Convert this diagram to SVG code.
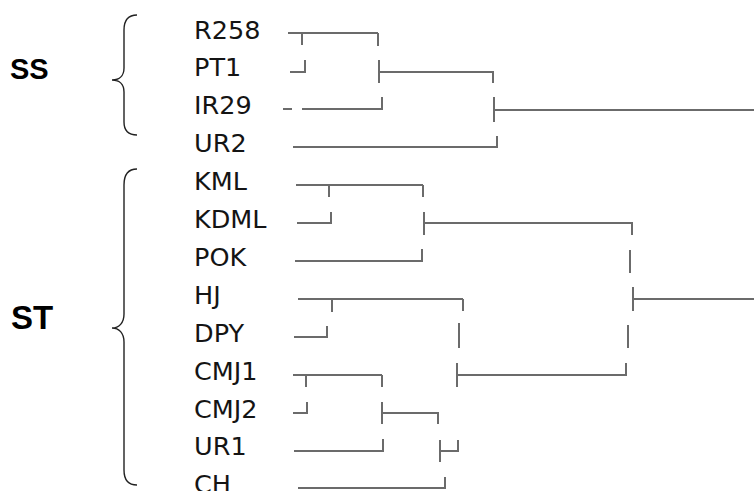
<svg xmlns="http://www.w3.org/2000/svg" width="754" height="491" viewBox="0 0 754 491">
  <style>
    .leaf { font-family: "DejaVu Sans", Verdana, sans-serif; font-size: 25.5px; fill: #141414; }
    .grp { font-family: "Liberation Sans", Arial, sans-serif; font-weight: bold; fill: #000; }
    .br { fill: none; stroke: #222; stroke-width: 1.4; }
    .ln { fill: none; stroke: #6b6b6b; stroke-width: 2; stroke-linecap: butt; }
  </style>
  <rect width="754" height="491" fill="#fff"/>

  <!-- group labels and braces -->
  <g id="group-ss">
    <text class="grp" x="10" y="79" font-size="29">SS</text>
    <path class="br" d="M137,15 C128,15 124,20 124,30 L124,68 C124,76 119,80 112,80 C119,80 124,84 124,92 L124,122 C124,131 128,135 137,135"/>
  </g>
  <g id="group-st">
    <text class="grp" x="11" y="329" font-size="33">ST</text>
    <path class="br" d="M137,169 C128,169 124,175 124,185 L124,314 C124,323 119,328 112,328 C119,328 124,333 124,342 L124,470 C124,480 128,485 137,485"/>
  </g>

  <!-- leaf labels -->
  <g id="leaf-R258"><text class="leaf" x="194" y="38.5">R258</text></g>
  <g id="leaf-PT1"><text class="leaf" x="194" y="76.4">PT1</text></g>
  <g id="leaf-IR29"><text class="leaf" x="194" y="114.3">IR29</text></g>
  <g id="leaf-UR2"><text class="leaf" x="194" y="152.2">UR2</text></g>
  <g id="leaf-KML"><text class="leaf" x="194" y="190.1">KML</text></g>
  <g id="leaf-KDML"><text class="leaf" x="194" y="228">KDML</text></g>
  <g id="leaf-POK"><text class="leaf" x="194" y="265.9">POK</text></g>
  <g id="leaf-HJ"><text class="leaf" x="194" y="303.8">HJ</text></g>
  <g id="leaf-DPY"><text class="leaf" x="194" y="341.7">DPY</text></g>
  <g id="leaf-CMJ1"><text class="leaf" x="194" y="379.6">CMJ1</text></g>
  <g id="leaf-CMJ2"><text class="leaf" x="194" y="417.5">CMJ2</text></g>
  <g id="leaf-UR1"><text class="leaf" x="194" y="455.4">UR1</text></g>
  <g id="leaf-CH"><text class="leaf" x="194" y="493">CH</text></g>

  <!-- dendrogram branches -->
  <g id="connectors" class="ln">
    <!-- SS cluster -->
    <path d="M288,33 H378 M302,33 V45 M378,33 V46"/>
    <path d="M290,72 H305 V60"/>
    <path d="M379,60 V83 M379,72 H493 V83"/>
    <path d="M283,109 H292 M302,109 H382 V97"/>
    <path d="M494,97 V122 M494,110 H754"/>
    <path d="M293,147 H497 V136"/>

    <!-- ST cluster -->
    <path d="M296,185 H423 M329,185 V197 M423,185 V197"/>
    <path d="M297,223 H331 V212"/>
    <path d="M424,212 V235 M424,223 H632 V235"/>
    <path d="M295,261 H422 V249"/>
    <path d="M630,250 V273"/>
    <path d="M298,299 H463 M332,299 V312 M463,299 V311"/>
    <path d="M633,287 V311 M633,299 H754"/>
    <path d="M294,337 H327 V326"/>
    <path d="M459,323 V348"/>
    <path d="M628,325 V348"/>
    <path d="M293,375 H382 M306,375 V387 M382,375 V387"/>
    <path d="M457,363 V387 M457,375 H626 V363"/>
    <path d="M293,413 H307 V402"/>
    <path d="M382,402 V424 M382,413 H438 V424"/>
    <path d="M294,451 H383 V439"/>
    <path d="M440,440 V462 M440,451 H458 V440"/>
    <path d="M298,488 H445 V477"/>
  </g>
</svg>
